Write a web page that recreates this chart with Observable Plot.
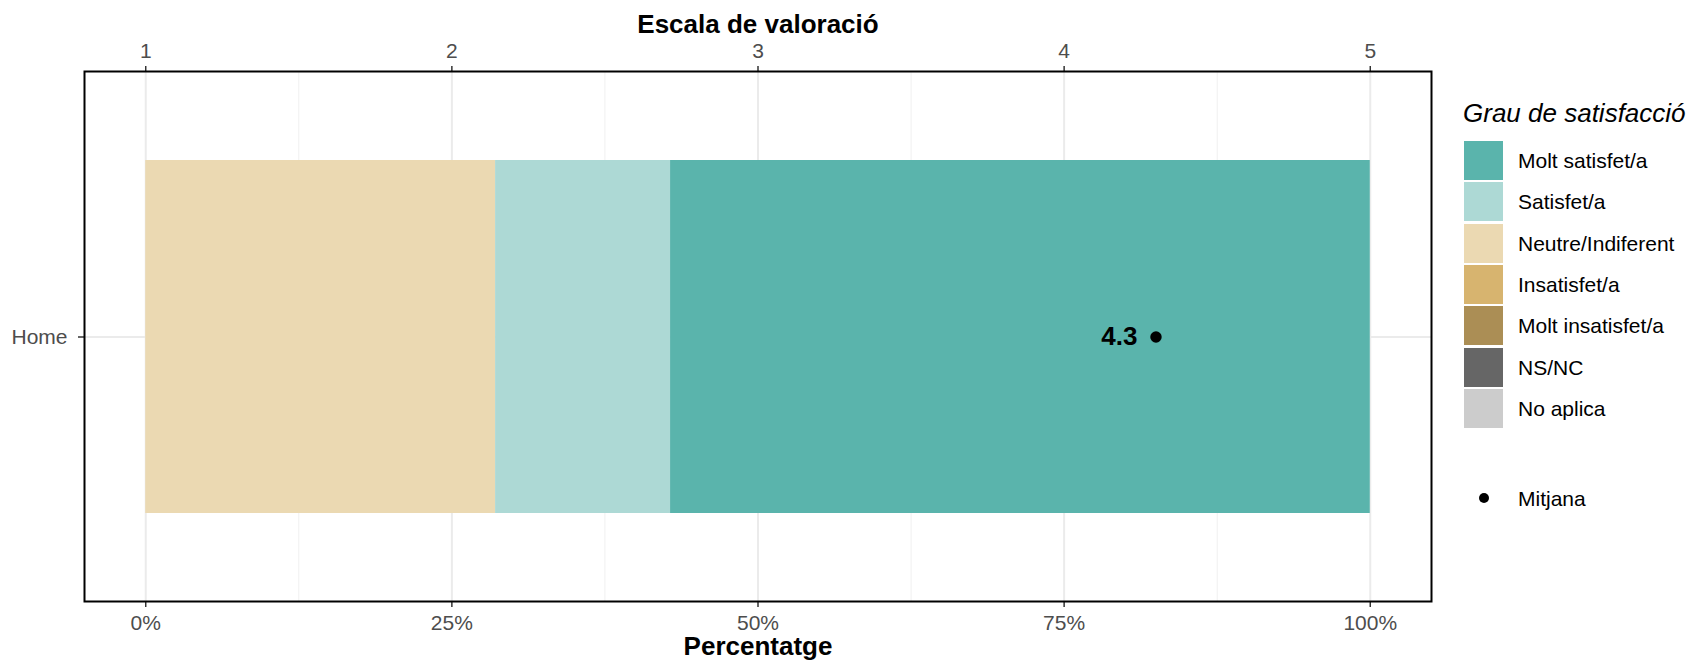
<!DOCTYPE html>
<html>
<head>
<meta charset="utf-8">
<script src="https://cdn.jsdelivr.net/npm/d3@7"></script>
<script src="https://cdn.jsdelivr.net/npm/@observablehq/plot@0.6"></script>
<style>
  html, body { margin: 0; padding: 0; background: #fff; }
  #wrap { position: relative; width: 1692px; height: 660px; font-family: "Liberation Sans", Arial, sans-serif; }
  #legend div { position: absolute; white-space: nowrap; line-height: 1; }
</style>
</head>
<body>
<div id="wrap">
  <div id="chart"></div>
  <div id="legend"></div>
</div>
<script>
// ---- data ----
const groups = ["Home"];
const categories = ["Molt satisfet/a", "Satisfet/a", "Neutre/Indiferent", "Insatisfet/a", "Molt insatisfet/a", "NS/NC", "No aplica"];
const colors = ["#5ab4ac", "#add9d5", "#ebd9b2", "#d7b46f", "#ab8e55", "#666666", "#cccccc"];
const shares = [0.5714, 0.1429, 0.2857, 0, 0, 0, 0];   // share of answers for "Home"
const means = [4.3];                                  // mean rating per group
const pctTicks = [0, 0.25, 0.5, 0.75, 1];
const pctLabels = ["0%", "25%", "50%", "75%", "100%"];
const minorTicks = [0.125, 0.375, 0.625, 0.875];
const scaleLabels = ["1", "2", "3", "4", "5"];
const xTitle = "Percentatge";
const topTitle = "Escala de valoració";
const legendTitle = "Grau de satisfacció";
const meanLabel = "Mitjana";

// ---- tables ----
const rows = categories.map((c, i) => ({group: groups[0], cat: c, share: shares[i]})).reverse();
const meanRows = groups.map((g, i) => ({group: g, mean: means[i], pos: (means[i] - 1) / 4}));

const textColor = "#4d4d4d", tickColor = "#333333";

const chart = Plot.plot({
  width: 1692,
  height: 660,
  marginLeft: 84,
  marginRight: 261,
  marginTop: 71,
  marginBottom: 59,
  style: {fontFamily: "Liberation Sans, Arial, sans-serif", fontSize: "21px", background: "#fff"},
  x: {domain: [-0.05, 1.05]},
  y: {domain: groups, padding: 0.2},
  color: {domain: categories, range: colors},
  marks: [
    Plot.ruleX(minorTicks, {stroke: "#f0f0f0", strokeWidth: 1}),
    Plot.ruleX(pctTicks, {stroke: "#ebebeb", strokeWidth: 2}),
    Plot.ruleY(groups, {y: d => d, stroke: "#ebebeb", strokeWidth: 2}),
    Plot.barX(rows, Plot.stackX({x: "share", y: "group", fill: "cat"})),
    Plot.dot(meanRows, {x: "pos", y: "group", r: 5.7, fill: "black"}),
    Plot.text(meanRows, {x: "pos", y: "group", text: d => d.mean.toFixed(1), textAnchor: "end", dx: -18.5, fontWeight: "bold", fontSize: 26, fill: "black"}),
    Plot.axisX(pctTicks, {anchor: "bottom", tickFormat: d => pctLabels[pctTicks.indexOf(d)], tickSize: 6, tickPadding: 8, stroke: tickColor, strokeWidth: 1.5, fill: textColor, fontSize: 21, label: null}),
    Plot.axisX(pctTicks, {anchor: "top", tickFormat: d => scaleLabels[pctTicks.indexOf(d)], tickSize: 6, tickPadding: 8, stroke: tickColor, strokeWidth: 1.5, fill: textColor, fontSize: 21, label: null}),
    Plot.axisY(groups, {anchor: "left", tickSize: 6, tickPadding: 11, stroke: tickColor, strokeWidth: 1.5, fill: textColor, fontSize: 21, label: null}),
    Plot.text([topTitle], {frameAnchor: "top", lineAnchor: "middle", dy: -47, fontWeight: "bold", fontSize: 26, fill: "black"}),
    Plot.text([xTitle], {frameAnchor: "bottom", lineAnchor: "middle", dy: 45, fontWeight: "bold", fontSize: 26, fill: "black"}),
    Plot.frame({stroke: "black", strokeWidth: 2})
  ]
});
document.getElementById("chart").appendChild(chart);

// ---- legend (right side) ----
const legend = document.getElementById("legend");
const t = document.createElement("div");
t.textContent = legendTitle;
Object.assign(t.style, {left: "1463px", top: "99.5px", fontSize: "26px", fontStyle: "italic", color: "#000"});
legend.appendChild(t);
categories.forEach((c, i) => {
  const top = 141 + i * 41.3;
  const key = document.createElement("div");
  Object.assign(key.style, {left: "1464px", top: top + "px", width: "39px", height: "39px", background: colors[i]});
  legend.appendChild(key);
  const lab = document.createElement("div");
  lab.textContent = c;
  Object.assign(lab.style, {left: "1518px", top: (top + 19.5 - 10.5) + "px", fontSize: "21px", color: "#000", height: "21px", lineHeight: "21px"});
  legend.appendChild(lab);
});
const dot = document.createElement("div");
Object.assign(dot.style, {left: "1479px", top: "492.5px", width: "10px", height: "10px", borderRadius: "50%", background: "#000"});
legend.appendChild(dot);
const ml = document.createElement("div");
ml.textContent = meanLabel;
Object.assign(ml.style, {left: "1518px", top: "487.5px", fontSize: "21px", color: "#000", height: "21px", lineHeight: "21px"});
legend.appendChild(ml);
</script>
</body>
</html>
